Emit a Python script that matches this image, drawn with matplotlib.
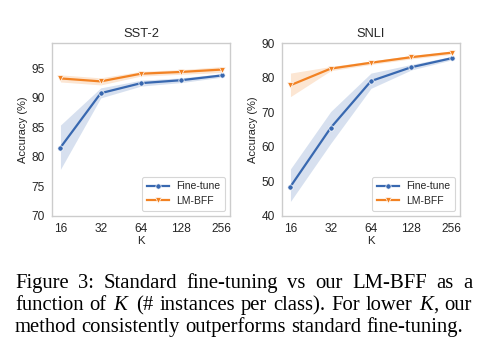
import numpy as np
import matplotlib
matplotlib.use("Agg")
import matplotlib.pyplot as plt

# values
ks = ["16", "32", "64", "128", "256"]

sst_ft = [81.6, 90.8, 92.5, 93.0, 93.8]
sst_ft_lo = [77.9, 90.0, 92.0, 92.6, 93.5]
sst_ft_hi = [85.4, 91.7, 93.0, 93.4, 94.1]
sst_lm = [93.3, 92.8, 94.1, 94.4, 94.8]
sst_lm_lo = [92.7, 92.2, 93.7, 94.0, 94.3]
sst_lm_hi = [93.9, 93.4, 94.5, 94.8, 95.3]

snli_ft = [48.5, 65.5, 79.0, 83.0, 85.6]
snli_ft_lo = [44.2, 61.0, 76.9, 82.2, 85.1]
snli_ft_hi = [53.6, 70.2, 81.3, 83.8, 86.1]
snli_lm = [77.8, 82.6, 84.3, 85.9, 87.2]
snli_lm_lo = [74.5, 82.0, 83.8, 85.4, 86.7]
snli_lm_hi = [81.3, 83.2, 84.8, 86.4, 87.7]

caption = [
    [["Figure"], ["3:"], ["Standard"], ["fine-tuning"], ["vs"], ["our"], ["LM-BFF"], ["as"], ["a"]],
    [["function"], ["of"], ["$K$"], ["(#"], ["instances"], ["per"], ["class)."], ["For"], ["lower"], ["$K$", ","], ["our"]],
    [["method"], ["consistently"], ["outperforms"], ["standard"], ["fine-tuning."]],
]

blue = "#3868b0"
orange = "#f28223"
grey = "#cccccc"

plt.rcParams["font.family"] = ["Liberation Sans", "DejaVu Sans"]
plt.rcParams["mathtext.fontset"] = "custom"
plt.rcParams["mathtext.it"] = "Liberation Serif:italic"
plt.rcParams["mathtext.rm"] = "Liberation Serif"

fig = plt.figure(figsize=(4.83, 3.61), dpi=100)
ax1 = fig.add_axes([52 / 483, 1 - 216 / 361, 178 / 483, 173 / 361])
ax2 = fig.add_axes([282 / 483, 1 - 216 / 361, 178 / 483, 173 / 361])

x = np.arange(len(ks))


def panel(ax, title, ft, ft_lo, ft_hi, lm, lm_lo, lm_hi, ylim, yticks):
    ax.fill_between(x, ft_lo, ft_hi, color=blue, alpha=0.2, lw=0)
    ax.fill_between(x, lm_lo, lm_hi, color=orange, alpha=0.2, lw=0)
    ax.plot(x, ft, color=blue, marker="o", ms=3.8, mec="white", mew=0.5, lw=1.6, label="Fine-tune")
    ax.plot(x, lm, color=orange, marker="v", ms=3.8, mec="white", mew=0.5, lw=1.6, label="LM-BFF")
    ax.set_xticks(x)
    ax.set_xticklabels(ks)
    ax.set_xlim(-0.21, 4.21)
    ax.set_ylim(*ylim)
    ax.set_yticks(yticks)
    ax.tick_params(length=0, labelsize=8.6, colors="#262626", pad=5)
    for sp in ax.spines.values():
        sp.set_color(grey)
        sp.set_linewidth(1.0)
    ax.set_title(title, fontsize=9.3, color="#262626", pad=4)
    ax.set_xlabel("K", fontsize=8.2, color="#262626", labelpad=1)
    ax.set_ylabel("Accuracy (%)", fontsize=8.0, color="#262626", labelpad=3)
    leg = ax.legend(loc="lower right", fontsize=7.5, handlelength=2.1, borderpad=0.45,
                    labelspacing=0.45, handletextpad=0.7, fancybox=True)
    leg.get_frame().set_edgecolor(grey)
    leg.get_frame().set_linewidth(0.8)
    for t in leg.get_texts():
        t.set_color("#262626")


panel(ax1, "SST-2", sst_ft, sst_ft_lo, sst_ft_hi, sst_lm, sst_lm_lo, sst_lm_hi,
      (70, 99.3), [70, 75, 80, 85, 90, 95])
panel(ax2, "SNLI", snli_ft, snli_ft_lo, snli_ft_hi, snli_lm, snli_lm_lo, snli_lm_hi,
      (40, 90), [40, 50, 60, 70, 80, 90])

# caption, justified by hand
renderer = fig.canvas.get_renderer()
left_px, right_px, last_right = 15, 472, 463
baselines = [288, 310, 332]


def width_px(s, size):
    t = fig.text(0, 0, s, fontsize=size, family="Liberation Serif")
    w = t.get_window_extent(renderer).width
    t.remove()
    return w


# pick the size so the last (unjustified) line spans the same width as in the reference
last = " ".join("".join(w) for w in caption[-1])
cap_size = 10 * (last_right - left_px) / width_px(last, 10)

for i, line in enumerate(caption):
    words = ["".join(w) for w in line]
    widths = [width_px(w, cap_size) for w in words]
    if i < len(caption) - 1:
        gap = (right_px - left_px - sum(widths)) / (len(words) - 1)
    else:
        gap = width_px("a b", cap_size) - width_px("ab", cap_size)
    xpos = left_px
    for w, wd in zip(words, widths):
        fig.text(xpos / 483, 1 - baselines[i] / 361, w, fontsize=cap_size,
                 family="Liberation Serif", va="baseline", ha="left", color="black")
        xpos += wd + gap

fig.savefig("out.png", dpi=100)
